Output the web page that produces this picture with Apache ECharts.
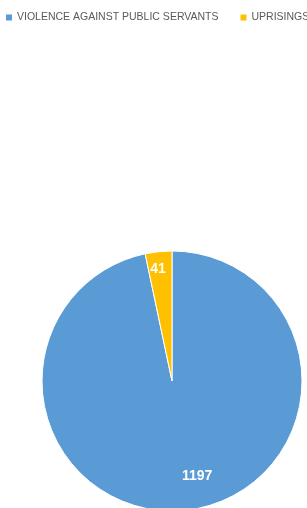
<!DOCTYPE html>
<html>
<head>
<meta charset="utf-8" />
<title>Pie</title>
<script src="https://cdn.jsdelivr.net/npm/echarts@6/dist/echarts.min.js"></script>
<style>
    html, body { margin: 0; padding: 0; background: #fff; }
    #main { width: 307px; height: 508px; }
</style>
</head>
<body>
<div id="main"></div>
<script type="text/javascript">
// data
let categories = ['VIOLENCE AGAINST PUBLIC SERVANTS', 'UPRISINGS'];
let values = [1197, 41];
let colors = ['#5b9bd5', '#ffc000'];
// label nudges (Excel puts the labels further out than ECharts "inside")
let labelOffsets = [[18, 28], [-7, -44]];

var myChart = echarts.init(document.getElementById('main'));

let pieData = [];
categories.forEach((name, i) => {
    pieData.push({
        name: name,
        value: values[i],
        itemStyle: { color: colors[i] },
        label: { offset: labelOffsets[i] }
    });
});

option = {
    animation: false,
    legend: {
        top: 12,
        left: 6,
        width: 400,
        padding: 0,
        itemWidth: 6,
        itemHeight: 6,
        itemGap: 22,
        icon: 'rect',
        itemStyle: { borderWidth: 0 },
        textStyle: {
            color: '#595959',
            fontSize: 10.5,
            fontFamily: 'Liberation Sans'
        },
        data: categories
    },
    series: [{
        type: 'pie',
        center: [172, 381],
        radius: [0, 130],
        startAngle: 90,
        clockwise: true,
        silent: true,
        itemStyle: {
            borderColor: '#fff',
            borderWidth: 1
        },
        label: {
            show: true,
            position: 'inside',
            formatter: '{c}',
            color: '#fff',
            fontSize: 14,
            fontWeight: 'bold',
            fontFamily: 'Liberation Sans'
        },
        labelLine: { show: false },
        data: pieData
    }]
};
myChart.setOption(option);
</script>
</body>
</html>
